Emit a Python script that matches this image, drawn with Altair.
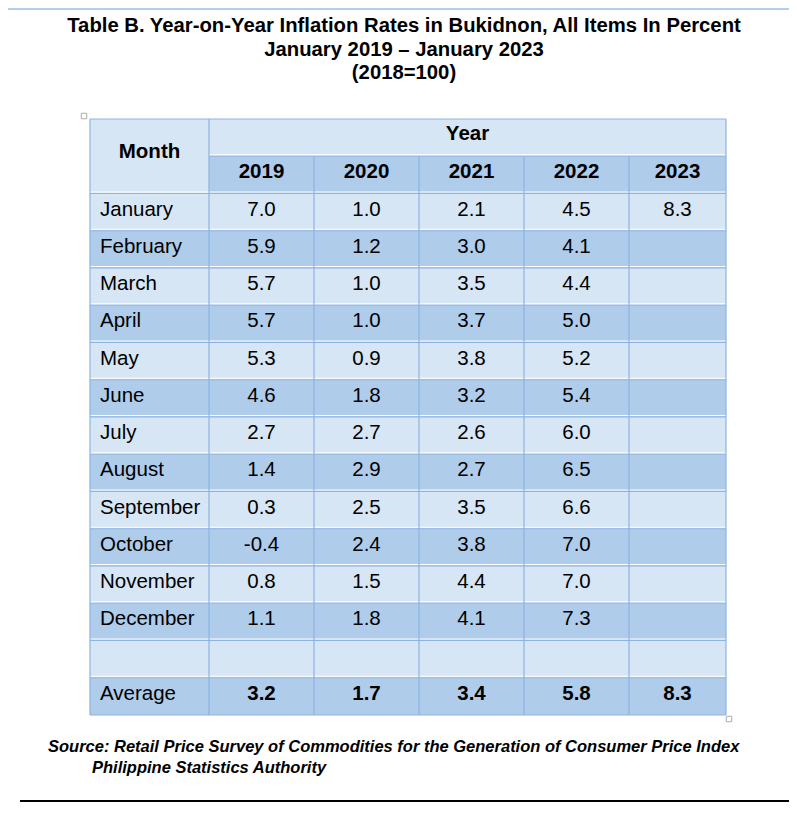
import altair as alt
import pandas as pd

# ---------------- data ----------------
title_lines = [
    "Table B. Year-on-Year Inflation Rates in Bukidnon, All Items In Percent",
    "January 2019 \u2013 January 2023",
    "(2018=100)",
]
months = ["January", "February", "March", "April", "May", "June", "July",
          "August", "September", "October", "November", "December"]
years = ["2019", "2020", "2021", "2022", "2023"]
y2019 = [7.0, 5.9, 5.7, 5.7, 5.3, 4.6, 2.7, 1.4, 0.3, -0.4, 0.8, 1.1]
y2020 = [1.0, 1.2, 1.0, 1.0, 0.9, 1.8, 2.7, 2.9, 2.5, 2.4, 1.5, 1.8]
y2021 = [2.1, 3.0, 3.5, 3.7, 3.8, 3.2, 2.6, 2.7, 3.5, 3.8, 4.4, 4.1]
y2022 = [4.5, 4.1, 4.4, 5.0, 5.2, 5.4, 6.0, 6.5, 6.6, 7.0, 7.0, 7.3]
y2023 = [8.3]
averages = [3.2, 1.7, 3.4, 5.8, 8.3]
source_lines = [
    "Source: Retail Price Survey of Commodities for the Generation of Consumer Price Index",
    "Philippine Statistics Authority",
]

# ---------------- layout (page pixel coordinates) ----------------
W, H = 781, 796
M = 8
col_edges = [90, 209, 314, 419, 524, 629, 726]
row_top = 119
row_h = 37.25
n_rows = 16  # 2 header + 12 months + blank + average
row_edges = [row_top + i * row_h for i in range(n_rows + 1)]
LIGHT = "#D7E6F5"
DARK = "#AFCCEA"
BORDER = "#8DB3E2"
FONT = "Liberation Sans"

xs = alt.Scale(domain=[M, M + W], range=[0, W])
ys = alt.Scale(domain=[M + H, M])

def X(f="x"):
    return alt.X(f"{f}:Q", scale=xs, axis=None)

def Y(f="y"):
    return alt.Y(f"{f}:Q", scale=ys, axis=None)

# ---------- cells ----------
cells = []
cells.append(dict(x=col_edges[0], x2=col_edges[1], y=row_edges[0], y2=row_edges[2], fill=LIGHT))
cells.append(dict(x=col_edges[1], x2=col_edges[6], y=row_edges[0], y2=row_edges[1], fill=LIGHT))
for c in range(1, 6):
    cells.append(dict(x=col_edges[c], x2=col_edges[c + 1], y=row_edges[1], y2=row_edges[2], fill=DARK))
for r in range(2, n_rows):
    fill = LIGHT if (r - 2) % 2 == 0 else DARK
    for c in range(6):
        cells.append(dict(x=col_edges[c], x2=col_edges[c + 1], y=row_edges[r], y2=row_edges[r + 1], fill=fill))
cells_df = pd.DataFrame(cells)

rect_layer = alt.Chart(cells_df).mark_rect(strokeWidth=0).encode(
    x=X(), x2="x2:Q", y=Y(), y2="y2:Q",
    color=alt.Color("fill:N", scale=None),
)

# ---------- border lines ----------
hlines = []
whites = []
for i, ye in enumerate(row_edges):
    x0 = col_edges[1] if i == 1 else col_edges[0]
    hlines.append(dict(x=x0, x2=col_edges[6], y=ye, y2=ye))
    if 0 < i < n_rows:
        whites.append(dict(x=x0, x2=col_edges[6], y=ye - 1.5, y2=ye - 1.5))
vlines = []
for j, xe in enumerate(col_edges):
    y0 = row_edges[1] if 1 < j < 6 else row_edges[0]
    vlines.append(dict(x=xe, x2=xe, y=y0, y2=row_edges[-1]))

white_layer = alt.Chart(pd.DataFrame(whites)).mark_rule(color="white", strokeWidth=1).encode(
    x=X(), x2="x2:Q", y=Y(), y2="y2:Q")
line_layer = alt.Chart(pd.DataFrame(hlines + vlines)).mark_rule(color=BORDER, strokeWidth=1.2).encode(
    x=X(), x2="x2:Q", y=Y(), y2="y2:Q")

# ---------- texts ----------
def cx(c):
    return (col_edges[c] + col_edges[c + 1]) / 2

def cy(r):
    return (row_edges[r] + row_edges[r + 1]) / 2 - 2.5

bold_c = [dict(x=cx(0), y=(row_edges[0] + row_edges[2]) / 2 - 4, t="Month"),
          dict(x=(col_edges[1] + col_edges[6]) / 2, y=cy(0) - 1, t="Year")]
for c, yr in enumerate(years):
    bold_c.append(dict(x=cx(c + 1), y=cy(1), t=yr))
for c, v in enumerate(averages):
    bold_c.append(dict(x=cx(c + 1), y=cy(15), t=f"{v:.1f}"))

reg_c = []
series = [y2019, y2020, y2021, y2022, y2023]
for c, s in enumerate(series):
    for r, v in enumerate(s):
        reg_c.append(dict(x=cx(c + 1), y=cy(r + 2), t=f"{v:.1f}"))

reg_l = [dict(x=col_edges[0] + 10, y=cy(r + 2), t=m) for r, m in enumerate(months)]
reg_l.append(dict(x=col_edges[0] + 10, y=cy(15), t="Average"))

def text_layer(rows, align, weight, size=20.5, style="normal", font=FONT):
    return alt.Chart(pd.DataFrame(rows)).mark_text(
        align=align, baseline="middle", fontSize=size, fontWeight=weight,
        fontStyle=style, font=font, color="black").encode(
        x=X(), y=Y(), text="t:N")

title_rows = [dict(x=404, y=26 + i * 23.5, t=t) for i, t in enumerate(title_lines)]
src_rows = [dict(x=48, y=747, t=source_lines[0]), dict(x=92, y=768, t=source_lines[1])]

# ---------- decorations ----------
top_line = alt.Chart(pd.DataFrame([dict(x=M, x2=M + W, y=M + 1, y2=M + 1)])).mark_rule(
    color="#B4CDEB", strokeWidth=2).encode(x=X(), x2="x2:Q", y=Y(), y2="y2:Q")
bottom_line = alt.Chart(pd.DataFrame([dict(x=20, x2=M + W, y=801, y2=801)])).mark_rule(
    color="black", strokeWidth=2).encode(x=X(), x2="x2:Q", y=Y(), y2="y2:Q")
handles = alt.Chart(pd.DataFrame([dict(x=84, y=116), dict(x=729, y=719)])).mark_point(
    shape="square", size=30, color="#8A8A8A", strokeWidth=1, filled=False).encode(x=X(), y=Y())

chart = alt.layer(
    top_line,
    rect_layer,
    white_layer,
    line_layer,
    text_layer(title_rows, "center", "bold", size=20.3),
    text_layer(bold_c, "center", "bold", size=20.5),
    text_layer(reg_c, "center", "normal", size=20.5),
    text_layer(reg_l, "left", "normal", size=20.5),
    text_layer(src_rows, "left", "bold", size=16.5, style="italic"),
    bottom_line,
    handles,
).properties(
    width=W, height=H, padding=0, autosize=alt.AutoSizeParams(type="none")
).configure_view(stroke=None)

chart.save("out.html", embed_options={"renderer": "svg", "actions": False})
